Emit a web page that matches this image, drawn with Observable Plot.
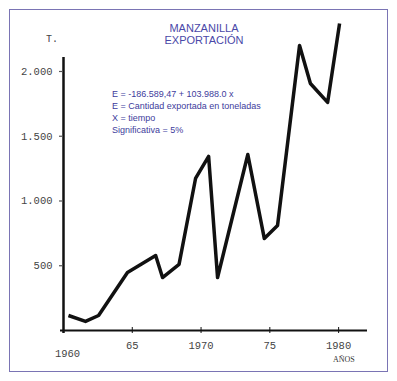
<!DOCTYPE html>
<html>
<head>
<meta charset="utf-8">
<script src="https://cdn.jsdelivr.net/npm/d3@7"></script>
<script src="https://cdn.jsdelivr.net/npm/@observablehq/plot@0.6"></script>
<style>
  body { margin: 0; background: #fff; }
  #wrap { position: relative; width: 397px; height: 381px; overflow: hidden; }
  #wrap svg { position: absolute; left: 0; top: 0; }
  .frame { position: absolute; left: 9px; top: 9px; width: 379px; height: 363px; box-sizing: border-box; border: 1.5px solid #7a74b4; pointer-events: none; }
  .title { position: absolute; left: 104px; width: 200px; top: 22px; text-align: center; font: 11px/12px "Liberation Sans", Arial, sans-serif; color: #4a48a8; }
  .note { position: absolute; left: 112px; top: 88px; font: 9px/12px "Liberation Sans", Arial, sans-serif; color: #3e3c9c; white-space: nowrap; }
  .tlab { position: absolute; left: 46px; top: 35px; font: 10px/10px "Liberation Mono", monospace; color: #444; }
  .anos { position: absolute; left: 333px; top: 356px; font: 8px/8px "Liberation Serif", serif; color: #333; }
</style>
</head>
<body>
<div id="wrap">
  <div id="chart"></div>
  <div class="frame"></div>
  <div class="title">MANZANILLA<br>EXPORTACIÓN</div>
  <div class="note">E = -186.589,47 + 103.988.0 x<br>E = Cantidad exportada en toneladas<br>X = tiempo<br>Significativa = 5%</div>
  <div class="tlab">T.</div>
  <div class="anos">AÑOS</div>
</div>
<script>
const years = [1960.36, 1961.6, 1962.55, 1964.65, 1966.7, 1967.2, 1968.4, 1969.6, 1970.55, 1971.2, 1973.4, 1974.6, 1975.56, 1977.16, 1977.95, 1979.2, 1980.07];
const tons  = [116, 70, 116, 448, 579, 409, 510, 1174, 1344, 409, 1359, 710, 811, 2201, 1907, 1761, 2371];
const yTicks = [500, 1000, 1500, 2000];
const yTickLabels = ["500", "1.000", "1.500", "2.000"];
const xTicks = [1965, 1970, 1975, 1980];
const xTickLabels = ["65", "1970", "75", "1980"];
const originYear = [1960];
const originLabel = ["1960"];

const data = years.map((x, i) => ({x, y: tons[i]}));
const mono = "Liberation Mono, monospace";

const chart = Plot.plot({
  width: 397,
  height: 381,
  marginLeft: 63,
  marginRight: 30,
  marginTop: 57,
  marginBottom: 51,
  x: {domain: [1960, 1982.1], axis: null},
  y: {domain: [0, 2108], axis: null},
  style: {background: "transparent", overflow: "visible"},
  marks: [
    Plot.ruleY([0], {stroke: "#111", strokeWidth: 2, insetLeft: -3}),
    Plot.ruleX(originYear, {stroke: "#111", strokeWidth: 2.5, insetBottom: -3}),
    Plot.ruleX(xTicks, {x: d => d, y1: 0, y2: 0, insetTop: -3, insetBottom: -3, stroke: "#111", strokeWidth: 1}),
    Plot.ruleY(yTicks, {y: d => d, x1: 1960, x2: 1960, insetLeft: -4, stroke: "#555", strokeWidth: 1.2}),
    Plot.text(yTicks, {x: 1960, y: d => d, text: (d, i) => yTickLabels[i], textAnchor: "end", dx: -11, fontFamily: mono, fontSize: 10.5, fill: "#444"}),
    Plot.text(xTicks, {x: d => d, y: 0, text: (d, i) => xTickLabels[i], dy: 15, fontFamily: mono, fontSize: 10.5, fill: "#444"}),
    Plot.text(originYear, {x: d => d, y: 0, text: (d, i) => originLabel[i], dy: 23, dx: 4, fontFamily: mono, fontSize: 10.5, fill: "#444"}),
    Plot.line(data, {x: "x", y: "y", stroke: "#111", strokeWidth: 3.5, strokeLinejoin: "round", strokeLinecap: "butt"})
  ]
});
document.getElementById("chart").appendChild(chart);
</script>
</body>
</html>
